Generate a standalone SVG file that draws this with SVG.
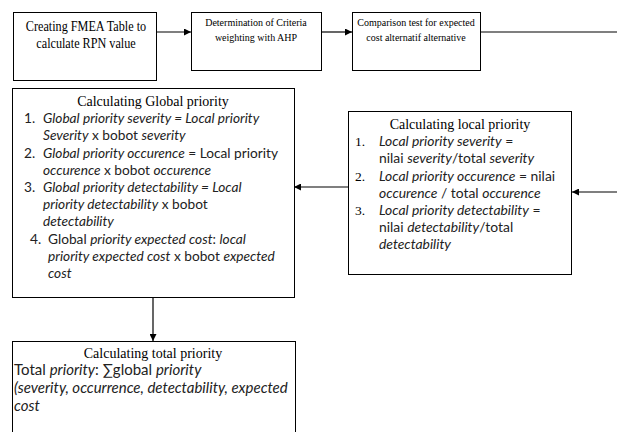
<svg xmlns="http://www.w3.org/2000/svg" width="617" height="432" viewBox="0 0 617 432">
<style>
.box{fill:#fff;stroke:#000;stroke-width:1}
.ser{font-family:"Liberation Serif","Times New Roman",serif;fill:#000}
.san{font-family:Lato,"Liberation Sans",sans-serif;font-size:13.7px;fill:#222}
.san2{font-family:Lato,"Liberation Sans",sans-serif;font-size:13.9px;fill:#222}
.san3{font-family:Lato,"Liberation Sans",sans-serif;font-size:15px;fill:#222}
.i{font-style:italic}
.ln{stroke:#000;stroke-width:1.2;fill:none}
</style>
<defs>
<marker id="ah" viewBox="0 0 10 10" refX="10" refY="5" markerWidth="7" markerHeight="7" markerUnits="userSpaceOnUse" orient="auto">
<path d="M0,0 L10,5 L0,10 z" fill="#000"/>
</marker>
</defs>
<rect width="617" height="432" fill="#fff"/>
<g id="connectors">
<line class="ln" x1="156" y1="32" x2="191" y2="32" marker-end="url(#ah)"/>
<line class="ln" x1="321" y1="32" x2="352" y2="32" marker-end="url(#ah)"/>
<line class="ln" x1="480" y1="32" x2="617" y2="32"/>
<line class="ln" x1="617" y1="192" x2="572" y2="192" marker-end="url(#ah)"/>
<line class="ln" x1="348" y1="187" x2="294" y2="187" marker-end="url(#ah)"/>
<line class="ln" x1="153" y1="297" x2="153" y2="341" marker-end="url(#ah)"/>
</g>
<g id="fmea">
<rect class="box" x="13.5" y="12.5" width="143" height="68"/>
<g transform="translate(86,0) scale(0.87,1)">
<text class="ser" font-size="14" text-anchor="middle" x="0" y="31">Creating FMEA Table to</text>
<text class="ser" font-size="14" text-anchor="middle" x="0" y="48">calculate RPN value</text>
</g>
</g>
<g id="ahp">
<rect class="box" x="191.5" y="12.5" width="130" height="58"/>
<text class="ser" font-size="10" text-anchor="middle" x="256" y="26">Determination of Criteria</text>
<text class="ser" font-size="10" text-anchor="middle" x="256" y="41">weighting with AHP</text>
</g>
<g id="comparison">
<rect class="box" x="352.5" y="12.5" width="128" height="58"/>
<text class="ser" font-size="10" text-anchor="middle" x="416" y="26">Comparison test for expected</text>
<text class="ser" font-size="10" text-anchor="middle" x="416" y="41">cost alternatif alternative</text>
</g>
<g id="global">
<rect class="box" x="12.5" y="88.5" width="282" height="209"/>
<text class="ser" font-size="14" text-anchor="middle" x="153" y="106">Calculating Global priority</text>
<text class="san" x="24" y="123">1.</text>
<text class="san" x="43" y="123"><tspan class="i">Global priority severity = Local priority</tspan></text>
<text class="san" x="43" y="140"><tspan class="i">Severity</tspan> x bobot <tspan class="i">severity</tspan></text>
<text class="san" x="24" y="158">2.</text>
<text class="san" x="43" y="158"><tspan class="i">Global priority occurence</tspan> = Local priority</text>
<text class="san" x="43" y="175"><tspan class="i">occurence</tspan> x bobot <tspan class="i">occurence</tspan></text>
<text class="san" x="24" y="192">3.</text>
<text class="san" x="43" y="192"><tspan class="i">Global priority detectability = Local</tspan></text>
<text class="san" x="43" y="209"><tspan class="i">priority detectability</tspan> x bobot</text>
<text class="san" x="43" y="226"><tspan class="i">detectability</tspan></text>
<text class="san" x="30" y="244">4.</text>
<text class="san" x="48" y="244">Global <tspan class="i">priority expected cost</tspan>: <tspan class="i">local</tspan></text>
<text class="san" x="48" y="261"><tspan class="i">priority expected cost</tspan> x bobot <tspan class="i">expected</tspan></text>
<text class="san" x="48" y="278"><tspan class="i">cost</tspan></text>
</g>
<g id="local">
<rect class="box" x="348.5" y="111.5" width="223" height="163"/>
<text class="ser" font-size="14" text-anchor="middle" x="460" y="129">Calculating local priority</text>
<text class="ser" font-size="13.5" x="355" y="146">1.</text>
<text class="san2" x="379" y="146"><tspan class="i">Local priority severity</tspan> =</text>
<text class="san2" x="379" y="163">nilai <tspan class="i">severity</tspan>/total <tspan class="i">severity</tspan></text>
<text class="ser" font-size="13.5" x="355" y="181">2.</text>
<text class="san2" x="379" y="181"><tspan class="i">Local priority occurence</tspan> = nilai</text>
<text class="san2" x="379" y="198"><tspan class="i">occurence</tspan> / total <tspan class="i">occurence</tspan></text>
<text class="ser" font-size="13.5" x="355" y="215">3.</text>
<text class="san2" x="379" y="215"><tspan class="i">Local priority detectability</tspan> =</text>
<text class="san2" x="379" y="232">nilai <tspan class="i">detectability</tspan>/total</text>
<text class="san2" x="379" y="249"><tspan class="i">detectability</tspan></text>
</g>
<g id="total">
<rect class="box" x="12.5" y="341.5" width="283" height="95"/>
<text class="ser" font-size="14" text-anchor="middle" x="153" y="358">Calculating total priority</text>
<text class="san3" x="14" y="375">Total <tspan class="i">priority</tspan>: ∑global <tspan class="i">priority</tspan></text>
<text class="san3" x="14" y="393"><tspan class="i">(severity, occurrence, detectability, expected</tspan></text>
<text class="san3" x="14" y="411"><tspan class="i">cost</tspan></text>
</g>
</svg>
